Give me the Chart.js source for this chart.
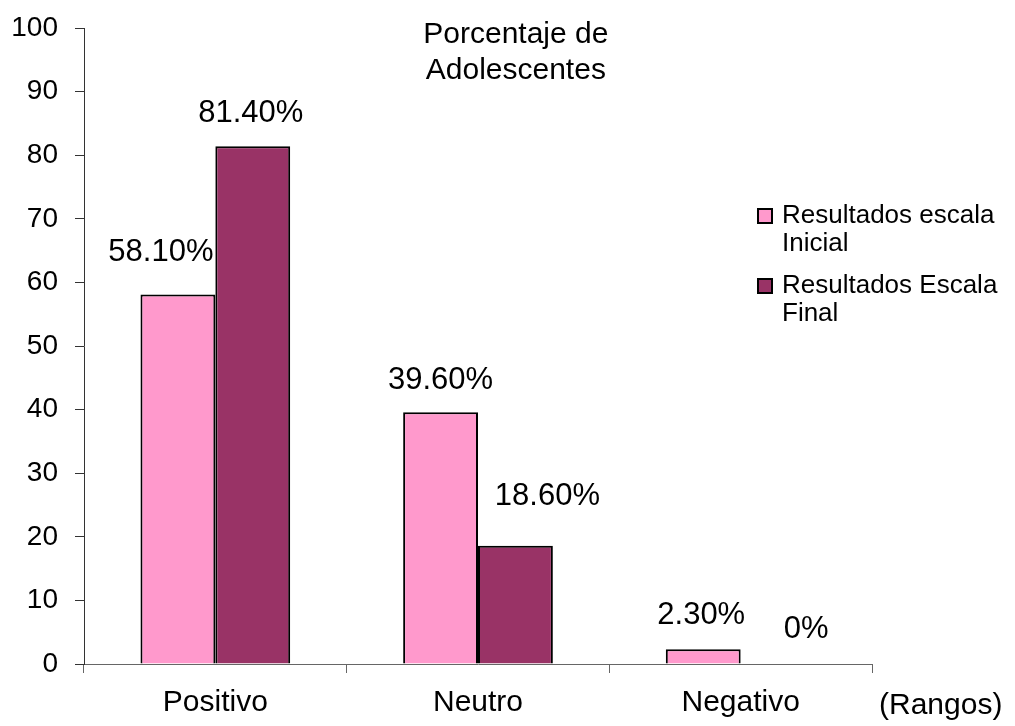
<!DOCTYPE html>
<html>
<head>
<meta charset="utf-8">
<script src="https://cdn.jsdelivr.net/npm/chart.js@4/dist/chart.umd.min.js"></script>
<style>
  html, body { margin: 0; padding: 0; background: #fff; }
  #wrap { width: 1015px; height: 726px; }
</style>
</head>
<body>
<div id="wrap"><canvas id="chart" width="1015" height="726"></canvas></div>
<script>
const CATEGORIES = ['Positivo', 'Neutro', 'Negativo']
const INICIAL = [58.1, 39.6, 2.3]
const FINAL = [81.4, 18.6, 0]
const SERIES_NAMES = [['Resultados escala', 'Inicial'], ['Resultados Escala', 'Final']]
const TITLE_LINES = ['Porcentaje de', 'Adolescentes']
const AXIS_NOTE = '(Rangos)'

const FONT = "'Liberation Sans', Arial, sans-serif"
const COLORS = ['#FF99CC', '#993366']
// hand-placed value labels: [dx, dy] from the default spot above each bar
const LABEL_NUDGE = [
  [[-17, -9], [0, 1], [-2, -1]],
  [[-2, 0], [32, -16], [28, -2]],
]

function pct(v) {
  return v === 0 ? '0%' : v.toFixed(2) + '%'
}

// value labels over each bar, title inside the plot, legend and axis note
const extras = {
  id: 'extras',
  afterDatasetsDraw(chart) {
    const ctx = chart.ctx
    const area = chart.chartArea
    ctx.save()
    ctx.fillStyle = '#000'
    ctx.font = '31px ' + FONT
    ctx.textAlign = 'center'
    ctx.textBaseline = 'middle'

    chart.data.datasets.forEach((ds, di) => {
      const meta = chart.getDatasetMeta(di)
      meta.data.forEach((bar, i) => {
        const [dx, dy] = LABEL_NUDGE[di][i]
        ctx.fillText(pct(ds.data[i]), bar.x + dx, bar.y - 33 + dy)
      })
    })

    // title
    ctx.font = '30px ' + FONT
    const tx = area.left + (area.right - area.left) * 0.548
    TITLE_LINES.forEach((line, i) => ctx.fillText(line, tx, 35 + i * 36))

    // note next to the category axis
    ctx.textAlign = 'left'
    ctx.fillText(AXIS_NOTE, 879, 706)

    // legend
    ctx.font = '26px ' + FONT
    let y = 216
    chart.data.datasets.forEach((ds, di) => {
      ctx.fillStyle = ds.backgroundColor
      ctx.fillRect(758, y - 7, 14, 14)
      ctx.strokeStyle = '#000'
      ctx.lineWidth = 2
      ctx.strokeRect(758, y - 7, 14, 14)
      ctx.fillStyle = '#000'
      SERIES_NAMES[di].forEach((line, li) => {
        ctx.fillText(line, 782, y + li * 28)
      })
      y += 70
    })
    ctx.restore()
  }
}

new Chart(document.getElementById('chart'), {
  type: 'bar',
  data: {
    labels: CATEGORIES,
    datasets: [
      {
        label: SERIES_NAMES[0].join(' '),
        data: INICIAL,
        backgroundColor: COLORS[0],
        borderColor: '#000',
        borderWidth: 2,
        categoryPercentage: 0.57,
        barPercentage: 1,
      },
      {
        label: SERIES_NAMES[1].join(' '),
        data: FINAL,
        backgroundColor: COLORS[1],
        borderColor: '#000',
        borderWidth: 2,
        categoryPercentage: 0.57,
        barPercentage: 1,
      },
    ],
  },
  options: {
    responsive: false,
    animation: false,
    layout: { padding: { top: 28, right: 143, left: 0, bottom: 0 } },
    plugins: {
      legend: { display: false },
      tooltip: { enabled: false },
    },
    scales: {
      x: {
        offset: true,
        grid: { offset: true, drawOnChartArea: false, tickLength: 9, tickColor: '#666' },
        border: { color: '#666', width: 1 },
        ticks: { color: '#000', font: { family: FONT, size: 30 }, padding: 12 },
        afterFit: (s) => { s.height = 62 },
      },
      y: {
        min: 0,
        max: 100,
        grid: { drawOnChartArea: false, tickLength: 9, tickColor: '#333' },
        border: { color: '#333', width: 1 },
        ticks: { stepSize: 10, color: '#000', font: { family: FONT, size: 28 }, padding: 17 },
        afterFit: (s) => {
          s.width = 84
          s.paddingTop = 0
          s.paddingBottom = 0
        },
      },
    },
  },
  plugins: [extras],
})
</script>
</body>
</html>
